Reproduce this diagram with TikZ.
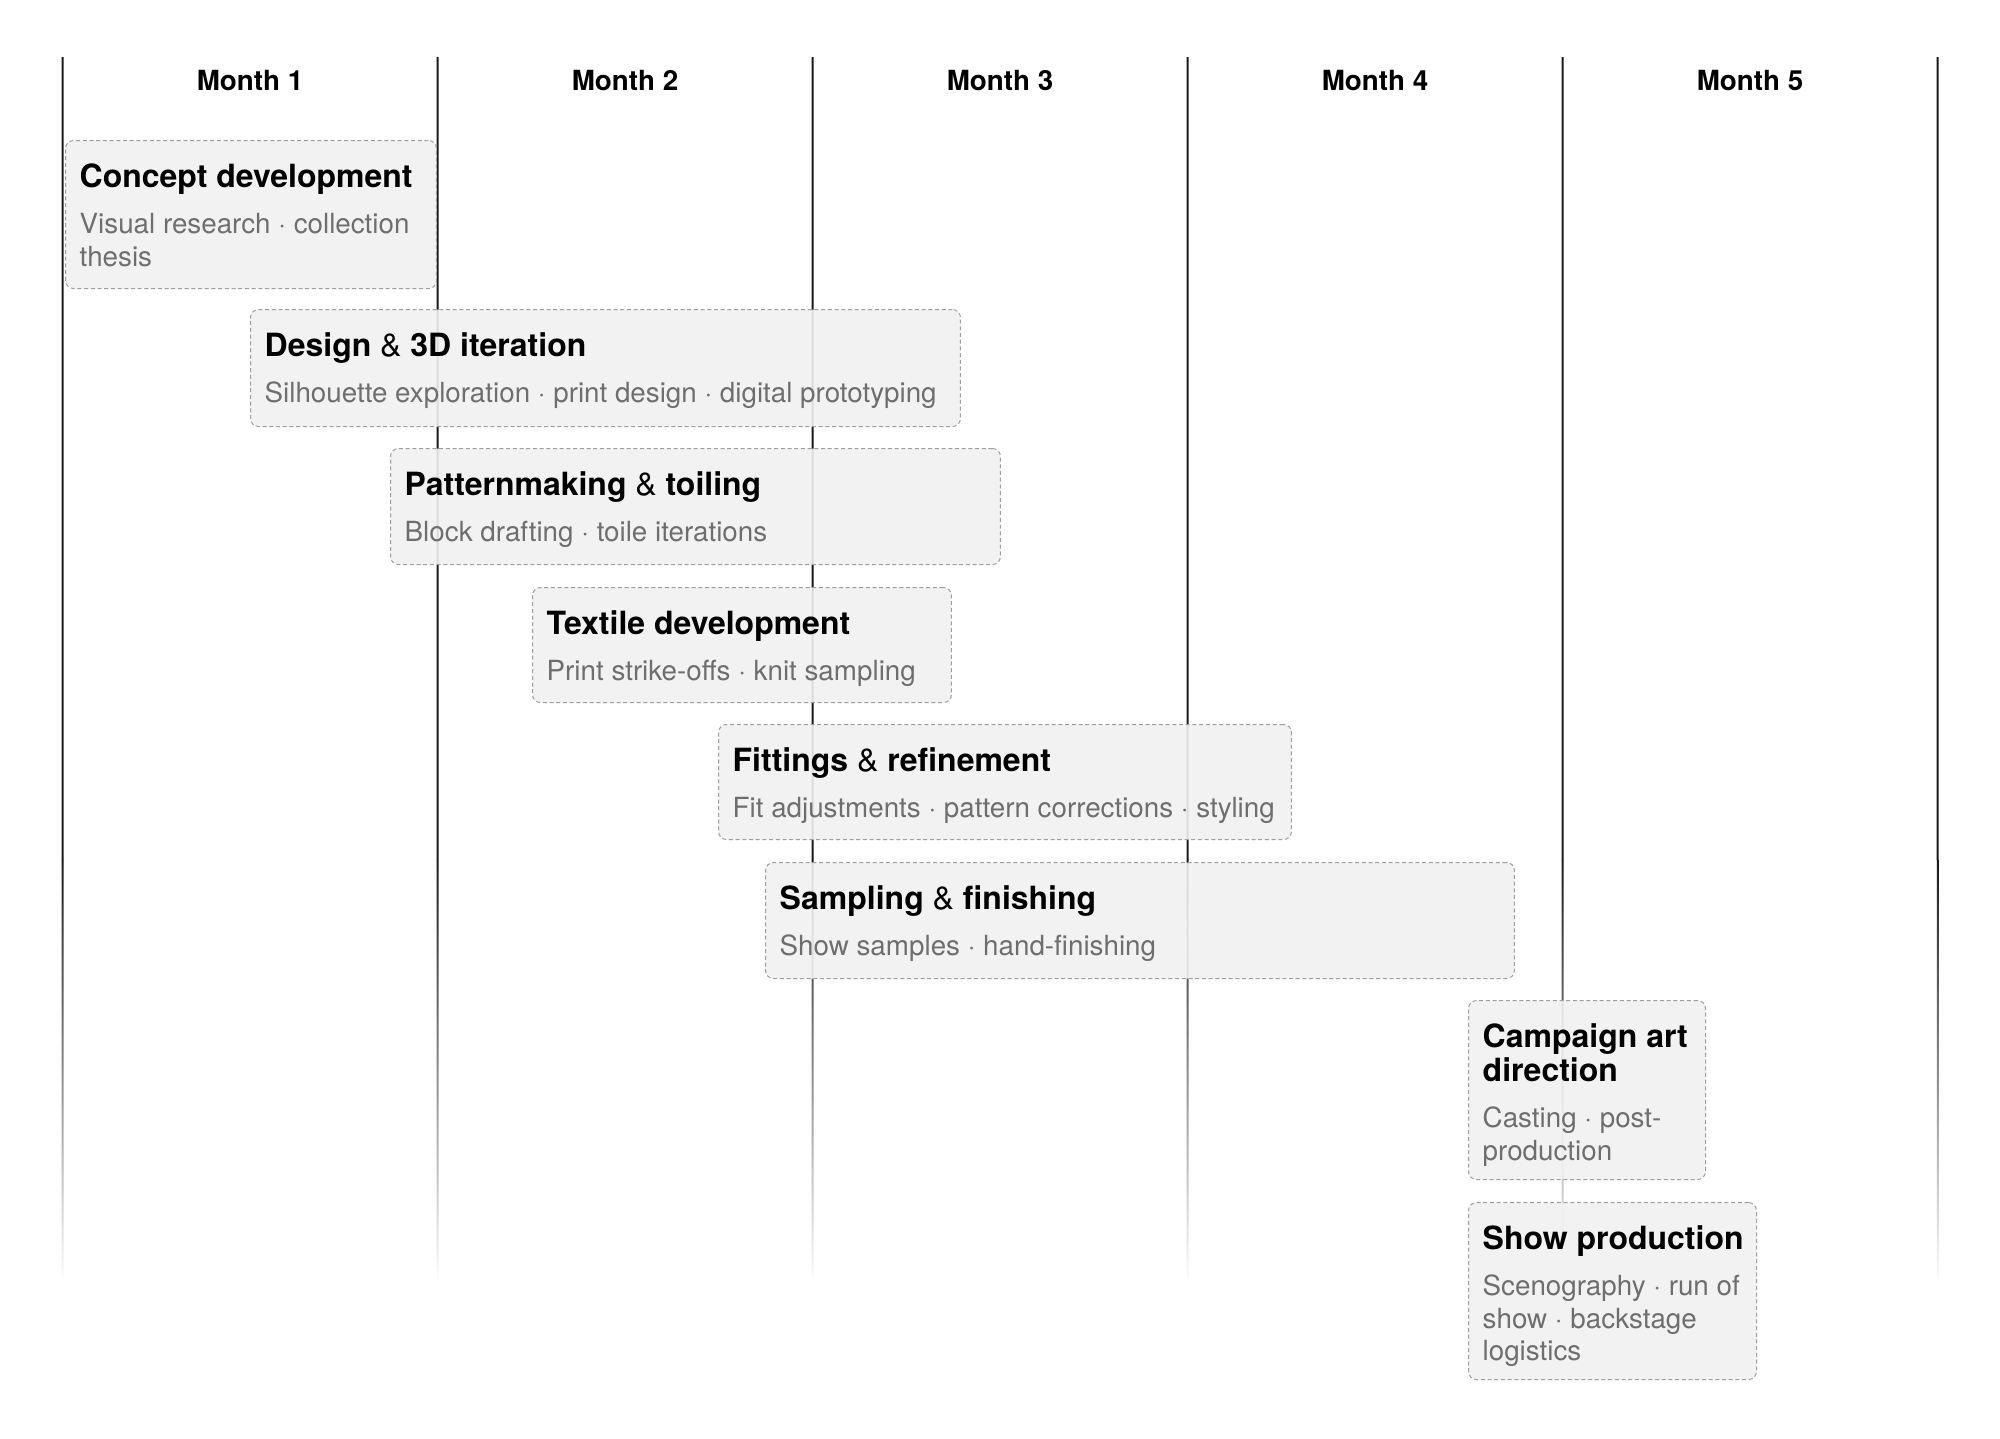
\documentclass[tikz,border=0pt]{standalone}
\usepackage{fontspec}
\setmainfont{TeX Gyre Heros}
\usepackage{xcolor}
\usepackage{tikz}
\usetikzlibrary{positioning,fadings}
\definecolor{subgray}{HTML}{6E6E6E}
\definecolor{boxgray}{HTML}{F1F1F1}
\definecolor{dashgray}{HTML}{9E9E9E}
\tikzfading[name=fadedown, top color=transparent!0, bottom color=transparent!100]
\tikzstyle{task}=[
draw=dashgray,
line width=0.1mm,
dash pattern=on 0.4mm off 0.27mm,
rounded corners=0.8mm,
fill=boxgray,
fill opacity=0.9,
anchor=north west,
inner sep=0pt
]
\tikzstyle{tasktext}=[
align=flush left,
inner sep=0pt
]
\tikzstyle{month}=[
anchor=base,
font=\fontsize{7.9}{9.5}\selectfont\bfseries
]
\tikzstyle{gridline}=[
fill=black!90
]
\tikzstyle{gridfade}=[
fill=black!90,
path fading=fadedown,
fit fading=true
]
\newcommand{\tasktitle}[1]{{\fontsize{9.1}{9.7}\selectfont\bfseries #1\par}}
\newcommand{\tasksub}[1]{\vspace{3.98pt}{\fontsize{7.9}{9.25}\selectfont\color{subgray}#1\par}}
\newcommand{\amp}{{\mdseries\&}}

\begin{document}
\begin{tikzpicture}[x=0.1mm, y=-0.1mm]

\fill[white] (0,0) rectangle (2000,1438);
\useasboundingbox (0,0) rectangle (2000,1438);

% month dividers, fading out at the bottom
\fill [gridline]
  (61.5,57) rectangle (63.5,860)
  (436.5,57) rectangle (438.5,860)
  (811.5,57) rectangle (813.5,860)
  (1186.5,57) rectangle (1188.5,860)
  (1561.5,57) rectangle (1563.5,860)
  (1936.5,57) rectangle (1938.5,860);
\fill [gridfade]
  (61.5,860) rectangle (63.5,1282)
  (436.5,860) rectangle (438.5,1282)
  (811.5,860) rectangle (813.5,1282)
  (1186.5,860) rectangle (1188.5,1282)
  (1561.5,860) rectangle (1563.5,1282)
  (1936.5,860) rectangle (1938.5,1282);

\node (m1) [month] at (250,90) {Month 1};
\node (m2) [month] at (625,90) {Month 2};
\node (m3) [month] at (1000,90) {Month 3};
\node (m4) [month] at (1375,90) {Month 4};
\node (m5) [month] at (1750,90) {Month 5};

% tasks
\node (concept) [task, minimum width=37.1mm, minimum height=14.8mm] at (65,140) {};
\node (concepttext) [tasktext, text width=37mm, below right=4.7mm and 1.4mm of concept.north west, anchor=base west] {\tasktitle{Concept development}\tasksub{Visual research · collection\\thesis}};

\node (design) [task, minimum width=71mm, minimum height=11.7mm] at (250,309) {};
\node (designtext) [tasktext, text width=72mm, below right=4.7mm and 1.4mm of design.north west, anchor=base west] {\tasktitle{Design \amp{} 3D iteration}\tasksub{Silhouette exploration · print design · digital prototyping}};

\node (pattern) [task, minimum width=61mm, minimum height=11.6mm] at (390,448) {};
\node (patterntext) [tasktext, text width=60mm, below right=4.7mm and 1.4mm of pattern.north west, anchor=base west] {\tasktitle{Patternmaking \amp{} toiling}\tasksub{Block drafting · toile iterations}};

\node (textile) [task, minimum width=41.9mm, minimum height=11.5mm] at (532,587) {};
\node (textiletext) [tasktext, text width=42mm, below right=4.7mm and 1.4mm of textile.north west, anchor=base west] {\tasktitle{Textile development}\tasksub{Print strike-offs · knit sampling}};

\node (fittings) [task, minimum width=57.3mm, minimum height=11.5mm] at (718,724) {};
\node (fittingstext) [tasktext, text width=58mm, below right=4.7mm and 1.4mm of fittings.north west, anchor=base west] {\tasktitle{Fittings \amp{} refinement}\tasksub{Fit adjustments · pattern corrections · styling}};

\node (sampling) [task, minimum width=74.9mm, minimum height=11.6mm] at (765,862) {};
\node (samplingtext) [tasktext, text width=73.5mm, below right=4.7mm and 1.4mm of sampling.north west, anchor=base west] {\tasktitle{Sampling \amp{} finishing}\tasksub{Show samples · hand-finishing}};

\node (campaign) [task, minimum width=23.7mm, minimum height=17.9mm] at (1468,1000) {};
\node (campaigntext) [tasktext, text width=24mm, below right=4.7mm and 1.4mm of campaign.north west, anchor=base west] {\tasktitle{Campaign art\\direction}\tasksub{Casting · post-\\production}};

\node (show) [task, minimum width=28.8mm, minimum height=17.7mm] at (1468,1202) {};
\node (showtext) [tasktext, text width=28mm, below right=4.7mm and 1.4mm of show.north west, anchor=base west] {\tasktitle{Show production}\tasksub{Scenography · run of\\show · backstage\\logistics}};

\end{tikzpicture}
\end{document}
